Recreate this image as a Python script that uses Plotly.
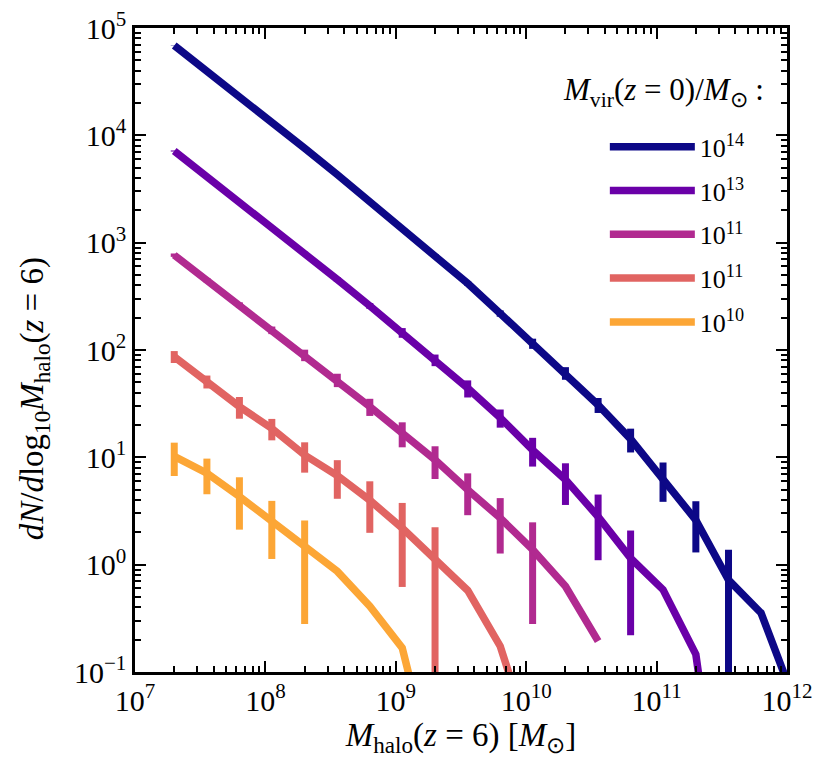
import plotly.graph_objects as go

# halo mass bins at z=6 [Msun]
m_halo = [2.00e7, 3.56e7, 6.32e7, 1.12e8, 2.00e8, 3.56e8, 6.32e8, 1.12e9, 2.00e9, 3.56e9,
          6.32e9, 1.12e10, 2.00e10, 3.56e10, 6.32e10, 1.12e11, 2.00e11, 3.56e11, 6.32e11, 1.12e12]

labels = ["10<sup>14</sup>", "10<sup>13</sup>", "10<sup>11</sup>", "10<sup>11</sup>", "10<sup>10</sup>"]
colors = ["#0d0887", "#6a00a8", "#b12a90", "#e16462", "#fca636"]

dn_1e14 = [68700, 39900, 23070, 13240, 7570, 4300, 2420, 1360, 757, 417,
           219, 115, 61, 30.8, 14.8, 6.4, 2.6, 0.72, 0.355, 0.057]
err_1e14 = [262, 200, 152, 115, 87, 66, 49, 37, 27.5, 20.4,
            14.8, 12.5, 8.2, 4.9, 3.7, 2.55, 1.3, 0.66, 0, 0]

dn_1e13 = [7145, 4150, 2404, 1387, 796, 454, 258, 145, 80.7, 44.1,
           23.4, 11.7, 6.2, 2.8, 1.15, 0.585, 0.146, 0.001]
err_1e13 = [85, 64, 49, 37, 28, 21, 16, 15, 10, 8,
            4.5, 3.5, 2.6, 1.7, 0.93, 0, 0, 0]

dn_1e11a = [765, 448, 262, 153, 89.7, 52.6, 29.7, 16.8, 9.48, 4.99, 2.72, 1.38, 0.628, 0.194]
err_1e11a = [28, 21, 16, 12.4, 11, 7.5, 5.4, 4.4, 3.2, 2.1, 1.45, 1.1, 0, 0]

dn_1e11b = [86.7, 50.8, 29.7, 18.6, 10.5, 6.76, 3.98, 2.19, 1.15, 0.575, 0.174, 0.02]
err_1e11b = [11, 7, 6.8, 4.2, 3.3, 2.65, 2.0, 1.57, 1.08, 0, 0, 0]

dn_1e10 = [10.2, 7.13, 4.32, 2.53, 1.43, 0.867, 0.41, 0.168, 0.01]
err_1e10 = [3.5, 2.6, 2.2, 1.4, 1.15, 0, 0, 0, 0]

x_tickvals = [1e7, 1e8, 1e9, 1e10, 1e11, 1e12]
x_ticktext = ["10<sup>7</sup>", "10<sup>8</sup>", "10<sup>9</sup>", "10<sup>10</sup>",
              "10<sup>11</sup>", "10<sup>12</sup>"]
y_tickvals = [1e-1, 1e0, 1e1, 1e2, 1e3, 1e4, 1e5]
y_ticktext = ["10<sup>−1</sup>", "10<sup>0</sup>", "10<sup>1</sup>", "10<sup>2</sup>",
              "10<sup>3</sup>", "10<sup>4</sup>", "10<sup>5</sup>"]

x_title = "<i>M</i><sub>halo</sub>(<i>z</i> = 6) [<i>M</i><sub>⊙</sub>]"
y_title = "<i>dN</i>/<i>d</i>log<sub>10</sub><i>M</i><sub>halo</sub>(<i>z</i> = 6)"
legend_title = "<i>M</i><sub>vir</sub>(<i>z</i> = 0)/<i>M</i><sub>⊙</sub> :"

series = [dn_1e14, dn_1e13, dn_1e11a, dn_1e11b, dn_1e10]
errors = [err_1e14, err_1e13, err_1e11a, err_1e11b, err_1e10]

FONT = "Liberation Serif"

fig = go.Figure()
for i, (lab, col, ys, es) in enumerate(zip(labels, colors, series, errors)):
    fig.add_trace(go.Scatter(
        x=m_halo[:len(ys)], y=ys, mode="lines", name=lab, legendgroup=f"g{i}",
        line=dict(color=col, width=7.5),
        error_y=dict(type="data", array=es, symmetric=True, thickness=7, width=0, color=col),
    ))

axis_common = dict(
    type="log", showline=True, linewidth=2.5, linecolor="black", mirror="allticks",
    ticks="inside", ticklen=11, tickwidth=2, tickcolor="black",
    showgrid=False, zeroline=False, automargin=False, ticklabeloverflow="allow",
    tickfont=dict(family=FONT, size=30, color="black"),
    minor=dict(ticks="inside", ticklen=6, tickwidth=1.5, tickcolor="black", dtick="D1", showgrid=False),
)

fig.update_xaxes(range=[7, 12], tickvals=x_tickvals, ticktext=x_ticktext,
                 title=dict(text=x_title, font=dict(family=FONT, size=33, color="black"), standoff=4),
                 **axis_common)
fig.update_yaxes(range=[-1, 5], tickvals=y_tickvals, ticktext=y_ticktext, **axis_common)

# y-axis title
fig.add_annotation(text=y_title, textangle=-90, xref="paper", yref="paper",
                   x=-0.155, y=0.425, xanchor="center", yanchor="middle", showarrow=False,
                   font=dict(family=FONT, size=33, color="black"))
# legend heading
fig.add_annotation(text=legend_title, xref="paper", yref="paper",
                   x=0.968, y=0.9, xanchor="right", yanchor="middle", showarrow=False,
                   font=dict(family=FONT, size=31, color="black"))

fig.update_layout(
    width=830, height=774,
    margin=dict(l=127, r=51, t=20, b=110),
    plot_bgcolor="white", paper_bgcolor="white",
    font=dict(family=FONT, color="black"),
    legend=dict(
        x=0.943, y=0.852, xanchor="right", yanchor="top",
        bgcolor="rgba(0,0,0,0)", borderwidth=0,
        font=dict(family=FONT, size=26, color="black"),
        itemwidth=85, tracegroupgap=7,
        traceorder="grouped",
    ),
)

fig.write_html("out.html")
